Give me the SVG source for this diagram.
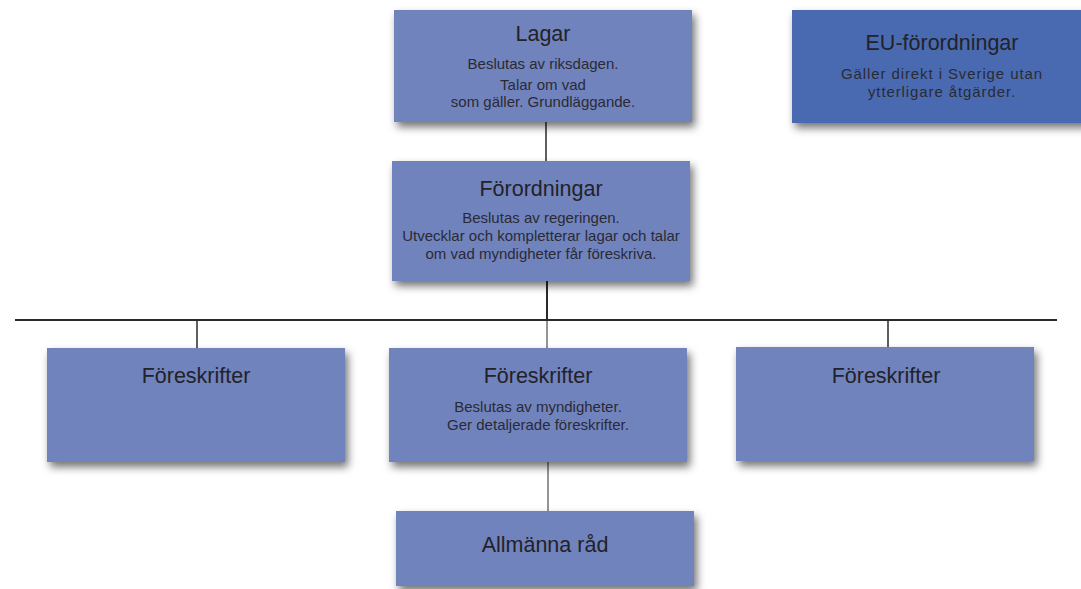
<svg xmlns="http://www.w3.org/2000/svg" width="1081" height="589" viewBox="0 0 1081 589">
<defs>
<filter id="sh" x="-10%" y="-20%" width="125%" height="160%">
<feDropShadow dx="3" dy="5" stdDeviation="4" flood-color="#000" flood-opacity="0.55"/>
</filter>
</defs>
<style>
.box{fill:#7183bd;filter:url(#sh)}
.eu{fill:#4a6ab0;filter:url(#sh)}
.t{font-family:"Liberation Sans",Arial,sans-serif;font-size:21.5px;fill:#222228;text-anchor:middle}
.s{font-family:"Liberation Sans",Arial,sans-serif;font-size:15px;fill:#2a2a35;text-anchor:middle}
.ls{letter-spacing:0.9px}
.c{stroke:#2a2a2a;fill:none}
</style>
<rect width="1081" height="589" fill="#fff"/>
<g id="connectors">
<line class="c" x1="546" y1="122" x2="546" y2="161" stroke-width="1.5"/>
<line class="c" x1="547" y1="281" x2="547" y2="320" stroke-width="2"/>
<line class="c" x1="15" y1="320" x2="1057" y2="320" stroke-width="2"/>
<line class="c" x1="197" y1="320" x2="197" y2="348" stroke-width="1.5"/>
<line class="c" x1="547" y1="320" x2="547" y2="348" stroke-width="1"/>
<line class="c" x1="888" y1="320" x2="888" y2="347" stroke-width="1.5"/>
<line class="c" x1="548" y1="462" x2="548" y2="511" stroke-width="1"/>
</g>
<g id="lagar">
<rect class="box" x="394" y="10" width="298" height="112"/>
<text class="t" x="543" y="41">Lagar</text>
<text class="s" x="543" y="69">Beslutas av riksdagen.</text>
<text class="s" x="543" y="90">Talar om vad</text>
<text class="s" x="543" y="107">som gäller. Grundläggande.</text>
</g>
<g id="eu">
<rect class="eu" x="792" y="10" width="298" height="113"/>
<text class="t" x="942" y="50">EU-förordningar</text>
<text class="s ls" x="942" y="79">Gäller direkt i Sverige utan</text>
<text class="s ls" x="942" y="97">ytterligare åtgärder.</text>
</g>
<g id="forordningar">
<rect class="box" x="392" y="161" width="298" height="120"/>
<text class="t" x="541" y="196">Förordningar</text>
<text class="s" x="541" y="223">Beslutas av regeringen.</text>
<text class="s" x="541" y="241">Utvecklar och kompletterar lagar och talar</text>
<text class="s" x="541" y="259">om vad myndigheter får föreskriva.</text>
</g>
<g id="foreskrifter-left">
<rect class="box" x="47" y="348" width="298" height="114"/>
<text class="t" x="196" y="383">Föreskrifter</text>
</g>
<g id="foreskrifter-mid">
<rect class="box" x="389" y="348" width="298" height="114"/>
<text class="t" x="538" y="383">Föreskrifter</text>
<text class="s" x="538" y="412">Beslutas av myndigheter.</text>
<text class="s" x="538" y="430">Ger detaljerade föreskrifter.</text>
</g>
<g id="foreskrifter-right">
<rect class="box" x="736" y="347" width="298" height="114"/>
<text class="t" x="886" y="383">Föreskrifter</text>
</g>
<g id="allmanna-rad">
<rect class="box" x="396" y="511" width="298" height="75"/>
<text class="t" x="545" y="552">Allmänna råd</text>
</g>
</svg>
